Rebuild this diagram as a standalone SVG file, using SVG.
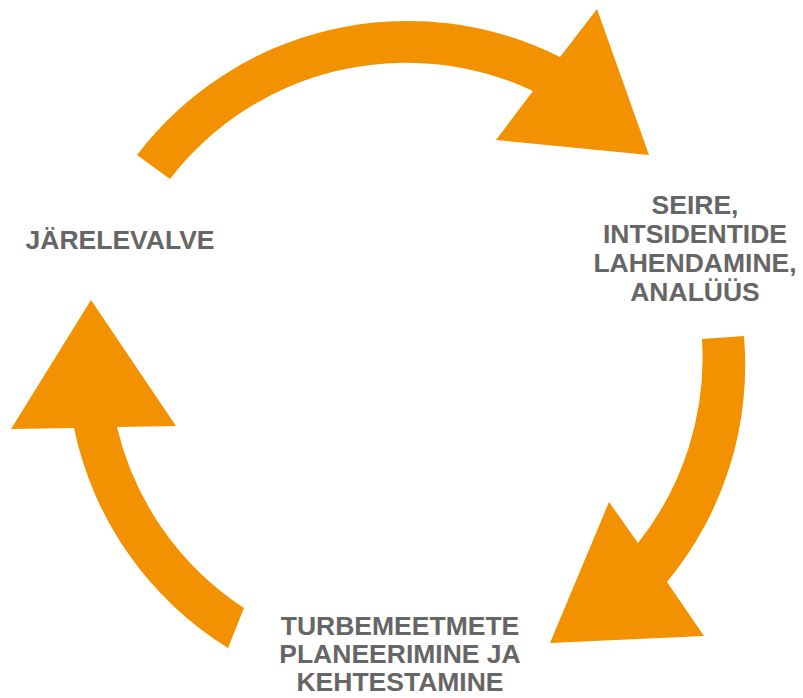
<svg xmlns="http://www.w3.org/2000/svg" width="803" height="698" viewBox="0 0 803 698">
<style>
.arrow{fill:#F39200;stroke:none}
.lbl{font-family:"Liberation Sans",Arial,sans-serif;font-weight:bold;font-size:26.5px;fill:#666666;text-anchor:middle}
</style>
<rect width="803" height="698" fill="#ffffff"/>
<g id="connectors">
<path id="arrow-top" class="arrow" d="M137,155 A340,340 0 0 1 560,57 L597,9 L649,155 L496,140 L533,91 A298,298 0 0 0 170,179 Z"/>
<path id="arrow-right" class="arrow" d="M744,336 A340,340 0 0 1 667,582 L704,636 L550,643 L609,502 L638,543 A298,298 0 0 0 702,339 Z"/>
<path id="arrow-left" class="arrow" d="M228,648 A340,340 0 0 1 74,428 L11,429 L91,300 L176,426 L117,427 A298,298 0 0 0 244,608 Z"/>
</g>
<g id="node-jarelevalve">
<text class="lbl" x="120" y="249">JÄRELEVALVE</text>
</g>
<g id="node-seire">
<text class="lbl" x="695" y="214">SEIRE,</text>
<text class="lbl" x="695" y="243">INTSIDENTIDE</text>
<text class="lbl" x="695" y="272">LAHENDAMINE,</text>
<text class="lbl" x="695" y="301">ANALÜÜS</text>
</g>
<g id="node-turbemeetmete">
<text class="lbl" x="400" y="635">TURBEMEETMETE</text>
<text class="lbl" x="400" y="663">PLANEERIMINE JA</text>
<text class="lbl" x="400" y="691">KEHTESTAMINE</text>
</g>
</svg>
